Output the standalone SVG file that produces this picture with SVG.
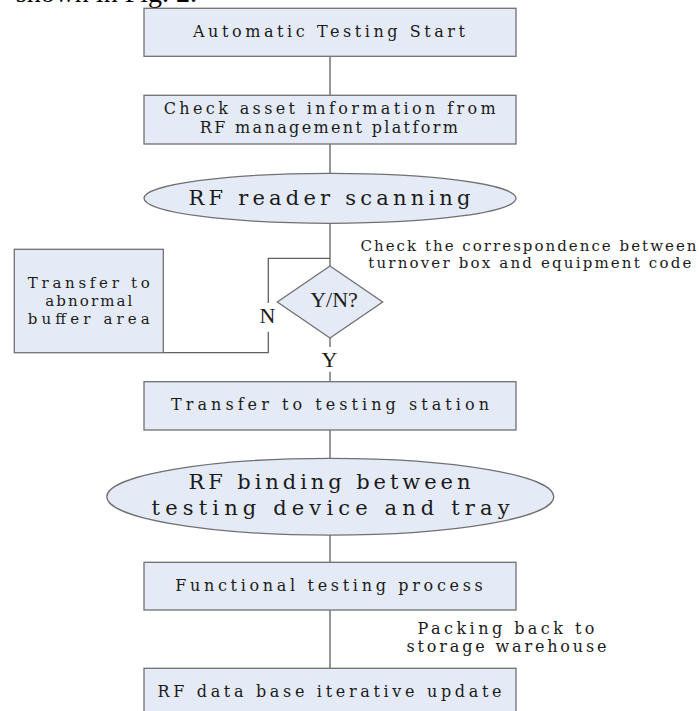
<svg xmlns="http://www.w3.org/2000/svg" width="699" height="711" viewBox="0 0 699 711">
<style>
.box{fill:#e5ebf6;stroke:#707070;stroke-width:1.3}
.ln{fill:none;stroke:#606060;stroke-width:1.3}
.t{font-family:"DejaVu Serif",serif;font-size:16px;fill:#1a1a1a;text-anchor:middle}
.tb{font-family:"DejaVu Serif",serif;font-size:21px;fill:#1a1a1a;text-anchor:middle}
.ts{font-family:"DejaVu Serif",serif;font-size:15px;fill:#1a1a1a}
.yn{font-family:"Liberation Serif",serif;font-size:22px;fill:#1a1a1a;text-anchor:middle}
</style>
<rect width="699" height="711" fill="#ffffff"/>
<text x="197" y="2" font-family="Liberation Serif,serif" font-size="28" text-anchor="end" fill="#000">shown in Fig. 2.</text>
<g id="connectors">
<line class="ln" x1="330" y1="56" x2="330" y2="95"/>
<line class="ln" x1="330" y1="144" x2="330" y2="173"/>
<line class="ln" x1="330" y1="223" x2="330" y2="266"/>
<polyline class="ln" points="330,258.3 268.3,258.3 268.3,303"/>
<polyline class="ln" points="268.3,331.7 268.3,352.7 163.3,352.7"/>
<line class="ln" x1="330" y1="338" x2="330" y2="347"/>
<line class="ln" x1="330" y1="371.7" x2="330" y2="381.7"/>
<line class="ln" x1="330" y1="430" x2="330" y2="458.3"/>
<line class="ln" x1="330" y1="535" x2="330" y2="562.3"/>
<line class="ln" x1="330" y1="610" x2="330" y2="668.3"/>
<text class="yn" x="267.5" y="323.3">N</text>
<text class="yn" x="329.5" y="366.7">Y</text>
<text class="ts" x="360.5" y="250.7" textLength="336" lengthAdjust="spacing">Check the correspondence between</text>
<text class="ts" x="368.3" y="268.3" textLength="323" lengthAdjust="spacing">turnover box and equipment code</text>
<text class="t" x="506" y="634" textLength="177" lengthAdjust="spacing">Packing back to</text>
<text class="t" x="506.5" y="652" textLength="200" lengthAdjust="spacing">storage warehouse</text>
</g>
<g id="start">
<rect class="box" x="144" y="8.3" width="372" height="48"/>
<text class="t" x="329" y="37.3" textLength="272" lengthAdjust="spacing">Automatic Testing Start</text>
</g>
<g id="check-asset">
<rect class="box" x="144" y="95.3" width="372" height="48.7"/>
<text class="t" x="329.7" y="114.3" textLength="332" lengthAdjust="spacing">Check asset information from</text>
<text class="t" x="328.8" y="133.3" textLength="258" lengthAdjust="spacing">RF management platform</text>
</g>
<g id="reader-scanning">
<ellipse class="box" cx="330" cy="198.3" rx="186" ry="25"/>
<text class="tb" x="329.5" y="205" textLength="282" lengthAdjust="spacing">RF reader scanning</text>
</g>
<g id="decision">
<polygon class="box" points="330,266 382.7,302 330,338 277.3,302"/>
<text class="yn" x="334" y="306.7">Y/N?</text>
</g>
<g id="abnormal-buffer">
<rect class="box" x="14.3" y="249.3" width="149" height="103.4"/>
<text class="ts" x="88.8" y="287.7" text-anchor="middle" textLength="122" lengthAdjust="spacing">Transfer to</text>
<text class="ts" x="88.8" y="306" text-anchor="middle" textLength="87" lengthAdjust="spacing">abnormal</text>
<text class="ts" x="88.8" y="324.3" text-anchor="middle" textLength="122" lengthAdjust="spacing">buffer area</text>
</g>
<g id="testing-station">
<rect class="box" x="144" y="381.7" width="372" height="48.3"/>
<text class="t" x="330" y="410" textLength="318" lengthAdjust="spacing">Transfer to testing station</text>
</g>
<g id="rf-binding">
<ellipse class="box" cx="330.3" cy="496.7" rx="223.5" ry="38.4"/>
<text class="tb" x="329.5" y="489.3" textLength="282" lengthAdjust="spacing">RF binding between</text>
<text class="tb" x="330.6" y="515" textLength="358" lengthAdjust="spacing">testing device and tray</text>
</g>
<g id="functional-testing">
<rect class="box" x="144" y="562.3" width="372" height="47.7"/>
<text class="t" x="329" y="590.7" textLength="307.6" lengthAdjust="spacing">Functional testing process</text>
</g>
<g id="db-update">
<rect class="box" x="144" y="668.3" width="372" height="60"/>
<text class="t" x="329.5" y="696.7" textLength="344" lengthAdjust="spacing">RF data base iterative update</text>
</g>
</svg>
